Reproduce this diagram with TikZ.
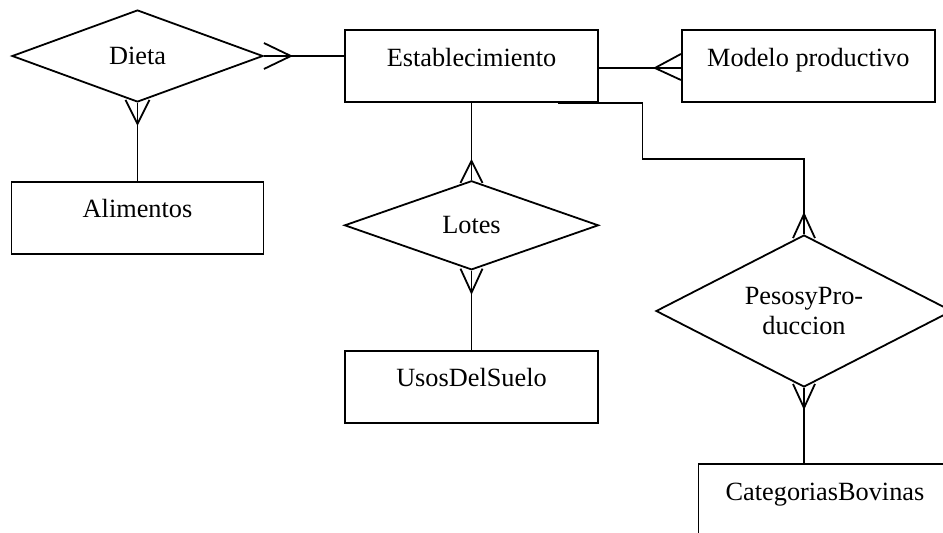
\documentclass[tikz,border=0pt]{standalone}
\usepackage{fontspec}
\setmainfont{Liberation Serif}
\usetikzlibrary{positioning,shapes.geometric}
\begin{document}
\begin{tikzpicture}[x=1pt, y=1pt, line width=1.8pt,
                entity/.style={draw, rectangle, minimum width=253pt, inner sep=0pt, text height=36pt, text depth=36pt},
                relation/.style={draw, diamond, aspect=2.5, inner sep=0pt, align=center},
                every node/.style={font=\fontsize{26.3}{30.5}\selectfont}]
                \useasboundingbox (0,0) rectangle (943,-533);

                \node[entity] (E) at (471.5,-66) {Establecimiento};
                \node[entity, right=82pt of E] (M) {Modelo productivo};
                \node[relation, minimum width=251pt, minimum height=92pt] (D) at (137.5,-56) {Dieta};
                \node[entity, minimum width=252pt, below=78pt of D] (A) {Alimentos};
                \node[relation, minimum width=254pt, minimum height=89pt, below=77pt of E] (L) {Lotes};
                \node[entity, below=79pt of L] (U) {UsosDelSuelo};
                \node[relation, minimum width=296pt, minimum height=152pt] (P) at (804,-311) {PesosyPro-\\duccion};
                \node[entity] (C) at (825,-500) {CategoriasBovinas};

                \draw (D.east) -- (D.east -| E.west);
                \draw ([yshift=13pt]D.east) -- ([xshift=27pt]D.east) -- ([yshift=-13pt]D.east);
                \draw (D.south) -- (A.north);
                \draw ([xshift=-12pt,yshift=3pt]D.south) -- ([yshift=-21pt]D.south) -- ([xshift=12pt,yshift=3pt]D.south);
                \draw ([yshift=-2pt]E.east) -- ([yshift=-2pt]M.west);
                \draw ([yshift=12pt]M.west) -- ([xshift=-26pt,yshift=-2pt]M.west) -- ([yshift=-14pt]M.west);
                \draw (E.south) -- (L.north);
                \draw ([xshift=-11pt,yshift=-3pt]L.north) -- ([yshift=19pt]L.north) -- ([xshift=11pt,yshift=-3pt]L.north);
                \draw (L.south) -- (U.north);
                \draw ([xshift=-11pt,yshift=2pt]L.south) -- ([yshift=-22pt]L.south) -- ([xshift=11pt,yshift=2pt]L.south);
                \draw ([xshift=86pt]E.south) -| ++(85,-56) -| (P.north);
                \draw ([xshift=-11pt,yshift=-4pt]P.north) -- ([yshift=20pt]P.north) -- ([xshift=11pt,yshift=-4pt]P.north);
                \draw (P.south) -- (P.south |- C.north);
                \draw ([xshift=-11pt,yshift=4pt]P.south) -- ([yshift=-20pt]P.south) -- ([xshift=11pt,yshift=4pt]P.south);
            \end{tikzpicture}
\end{document}
